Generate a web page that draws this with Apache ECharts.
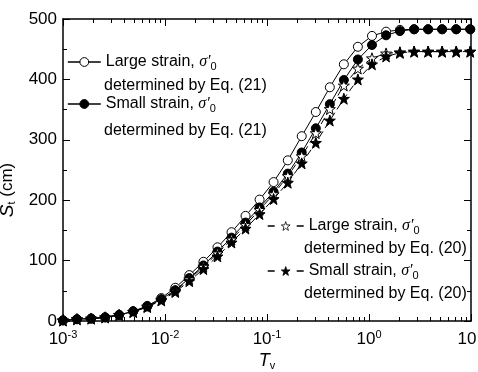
<!DOCTYPE html>
<html><head><meta charset="utf-8">
<script src="https://cdn.jsdelivr.net/npm/echarts@6/dist/echarts.min.js"></script>
<style>html,body{margin:0;padding:0;background:#fff}#c{width:478px;height:372px}</style>
</head><body><div id="c"></div>
<script>
// Time factor T_v (x values)
const tv = [0.001, 0.00137, 0.00189, 0.00259, 0.00355, 0.00488, 0.0067, 0.0092, 0.0126, 0.0173,
            0.0238, 0.0327, 0.0449, 0.0616, 0.0846, 0.116, 0.160, 0.219, 0.301, 0.413,
            0.567, 0.778, 1.07, 1.47, 2.01, 2.77, 3.80, 5.21, 7.16, 9.83];
// Settlement S_t (cm)
const largeEq21 = [1,3,4,6,10,16,25,38,55,76,98,122,147,174,201,230,266,306,346,387,425,454,472,479,482,483,483,483,483,483];
const smallEq21 = [1,3,4,6,10,16,24,36,51,71,92,115,138,163,188,214,244,279,319,359,399,433,457,473,480,483,483,483,483,483];
const largeEq20 = [1,3,4,6,10,15,24,35,50,69,90,112,135,159,184,210,240,273,311,351,390,418,435,443,445,446,446,446,446,446];
const smallEq20 = [1,3,4,6,10,15,23,34,48,66,86,107,130,153,177,202,229,261,295,332,368,400,425,438,444,446,446,446,446,446];

const seriesNames = ['Large strain Eq.21', 'Small strain Eq.21', 'Large strain Eq.20', 'Small strain Eq.20'];
const legendLine1 = ['Large strain, ', 'Small strain, ', 'Large strain, ', 'Small strain, '];
const legendLine2 = ['determined by Eq. (21)', 'determined by Eq. (21)', 'determined by Eq. (20)', 'determined by Eq. (20)'];

const xTickSup = ['-3', '-2', '-1', '0', ''];
const xMinorTicks = [0.002,0.003,0.004,0.005,0.006,0.007,0.008,0.009,
                     0.02,0.03,0.04,0.05,0.06,0.07,0.08,0.09,
                     0.2,0.3,0.4,0.5,0.6,0.7,0.8,0.9,
                     2,3,4,5,6,7,8,9];

const STAR = 'path://M5,0 L6.18,3.38 L9.76,3.45 L6.9,5.62 L7.94,9.05 L5,7 L2.06,9.05 L3.1,5.62 L0.24,3.45 L3.82,3.38 Z';
const FONT = 'Liberation Sans';

const pairs = v => tv.map((x, i) => [x, v[i]]);

const legendRich = {
  n: {fontSize: 16, fontFamily: FONT, color: '#000', lineHeight: 20},
  s: {fontSize: 16, fontFamily: 'Liberation Serif', fontStyle: 'italic', color: '#000', lineHeight: 20},
  sub: {fontSize: 11, fontFamily: FONT, color: '#000', lineHeight: 12, verticalAlign: 'bottom'}
};
const legendFormatter = name => {
  const i = seriesNames.indexOf(name);
  return '{n|' + legendLine1[i] + '}{s|σ′}{sub|0}';
};

const blackLine = {color: '#000', width: 1.5};

function mkSeries(i, data, symbol, size, fill, dashed) {
  return {
    name: seriesNames[i], type: 'line', data: pairs(data),
    xAxisIndex: 0, yAxisIndex: 0,
    symbol: symbol, symbolSize: size, showSymbol: true,
    itemStyle: {color: fill, borderColor: '#000', borderWidth: 1},
    lineStyle: {color: '#000', width: 1, type: dashed ? [7, 4] : 'solid'},
    emphasis: {disabled: true},
    animation: false
  };
}

const chart = echarts.init(document.getElementById('c'), null, {renderer: 'canvas'});
chart.setOption({
  backgroundColor: '#fff',
  animation: false,
  grid: {left: 63, right: 7, top: 19, bottom: 51, containLabel: false, outerBoundsMode: 'none'},
  xAxis: [
    {
      type: 'log', logBase: 10, min: 0.001, max: 10, position: 'bottom',
      axisLine: {onZero: false, lineStyle: blackLine},
      axisTick: {inside: true, length: 7, lineStyle: {color: '#000', width: 1}},
      axisLabel: {
        margin: 8, color: '#000', hideOverlap: false, showMinLabel: true, showMaxLabel: true,
        formatter: (v, idx) => {
          const e = Math.round(Math.log10(v));
          const s = xTickSup[e + 3];
          return s ? '{b|10}{sup|' + s + '}' : '{c|10}';
        },
        rich: {
          b: {fontSize: 17, fontFamily: FONT, color: '#000', lineHeight: 20},
          c: {fontSize: 17, fontFamily: FONT, color: '#000', lineHeight: 20, padding: [0, 8, 0, 0]},
          sup: {fontSize: 11, fontFamily: FONT, color: '#000', lineHeight: 14, verticalAlign: 'top'}
        }
      },
      splitLine: {show: false},
      name: '{i|T}{sub|v}', nameLocation: 'middle', nameGap: 26,
      nameTextStyle: {
        rich: {
          i: {fontSize: 18, fontFamily: FONT, fontStyle: 'italic', color: '#000', lineHeight: 20},
          sub: {fontSize: 11, fontFamily: FONT, color: '#000', lineHeight: 12, verticalAlign: 'bottom'}
        }
      }
    },
    {
      type: 'value', min: -3, max: 1, position: 'bottom',
      axisLine: {show: false, onZero: false},
      axisTick: {inside: true, length: 4, customValues: xMinorTicks.map(Math.log10), lineStyle: {color: '#000'}},
      axisLabel: {show: false}, splitLine: {show: false}
    },
    {
      type: 'value', min: -3, max: 1, interval: 1, position: 'top',
      axisLine: {show: true, onZero: false, lineStyle: blackLine},
      axisTick: {inside: true, length: 7, lineStyle: {color: '#000'}},
      axisLabel: {show: false}, splitLine: {show: false}
    },
    {
      type: 'value', min: -3, max: 1, position: 'top',
      axisLine: {show: false, onZero: false},
      axisTick: {inside: true, length: 4, customValues: xMinorTicks.map(Math.log10), lineStyle: {color: '#000'}},
      axisLabel: {show: false}, splitLine: {show: false}
    }
  ],
  yAxis: [
    {
      type: 'value', min: 0, max: 500, interval: 100, position: 'left',
      axisLine: {show: true, onZero: false, lineStyle: blackLine},
      axisTick: {show: true, inside: true, length: 7, lineStyle: {color: '#000'}},
      minorTick: {show: true, splitNumber: 2, length: 4, lineStyle: {color: '#000'}},
      axisLabel: {color: '#000', fontSize: 17, fontFamily: FONT, margin: 6},
      splitLine: {show: false}, minorSplitLine: {show: false},
      name: '{i|S}{sub|t}{n| (cm)}', nameLocation: 'middle', nameGap: 40, nameRotate: 90,
      nameTextStyle: {
        padding: [0, 40, 0, 0],
        rich: {
          i: {fontSize: 19, fontFamily: FONT, fontStyle: 'italic', color: '#000', lineHeight: 20},
          sub: {fontSize: 11, fontFamily: FONT, color: '#000', lineHeight: 12, verticalAlign: 'bottom'},
          n: {fontSize: 17, fontFamily: FONT, color: '#000', lineHeight: 20}
        }
      }
    },
    {
      type: 'value', min: 0, max: 500, interval: 100, position: 'right',
      axisLine: {show: true, onZero: false, lineStyle: blackLine},
      axisTick: {show: true, inside: true, length: 7, lineStyle: {color: '#000'}},
      minorTick: {show: true, splitNumber: 2, length: 4, lineStyle: {color: '#000'}},
      axisLabel: {show: false}, splitLine: {show: false}
    }
  ],
  legend: [
    {
      data: [seriesNames[0], seriesNames[1]], orient: 'vertical', left: 67, top: 54,
      itemWidth: 33, itemHeight: 11, itemGap: 24, padding: 0, selectedMode: false,
      lineStyle: {width: 1.6}, itemStyle: {borderWidth: 1},
      formatter: legendFormatter, textStyle: {color: '#000', rich: legendRich}
    },
    {
      data: [seriesNames[2], seriesNames[3]], orient: 'vertical', left: 267, top: 218,
      itemWidth: 36, itemHeight: 11, itemGap: 27, padding: 0, selectedMode: false,
      lineStyle: {type: [7, 22], width: 1.4}, itemStyle: {borderWidth: 0.8},
      formatter: legendFormatter, textStyle: {color: '#000', rich: legendRich}
    }
  ],
  graphic: [
    {type: 'text', x: 104, y: 86, style: {text: legendLine2[0], fontSize: 16, fontFamily: FONT, fill: '#000', verticalAlign: 'middle'}},
    {type: 'text', x: 104, y: 131, style: {text: legendLine2[1], fontSize: 16, fontFamily: FONT, fill: '#000', verticalAlign: 'middle'}},
    {type: 'text', x: 304, y: 249, style: {text: legendLine2[2], fontSize: 16, fontFamily: FONT, fill: '#000', verticalAlign: 'middle'}},
    {type: 'text', x: 304, y: 294, style: {text: legendLine2[3], fontSize: 16, fontFamily: FONT, fill: '#000', verticalAlign: 'middle'}}
  ],
  series: [
    mkSeries(0, largeEq21, 'circle', 9, '#fff', false),
    mkSeries(1, smallEq21, 'circle', 9, '#000', false),
    mkSeries(2, largeEq20, STAR, 11, '#fff', true),
    mkSeries(3, smallEq20, STAR, 11, '#000', true)
  ]
});
</script>
</body></html>
